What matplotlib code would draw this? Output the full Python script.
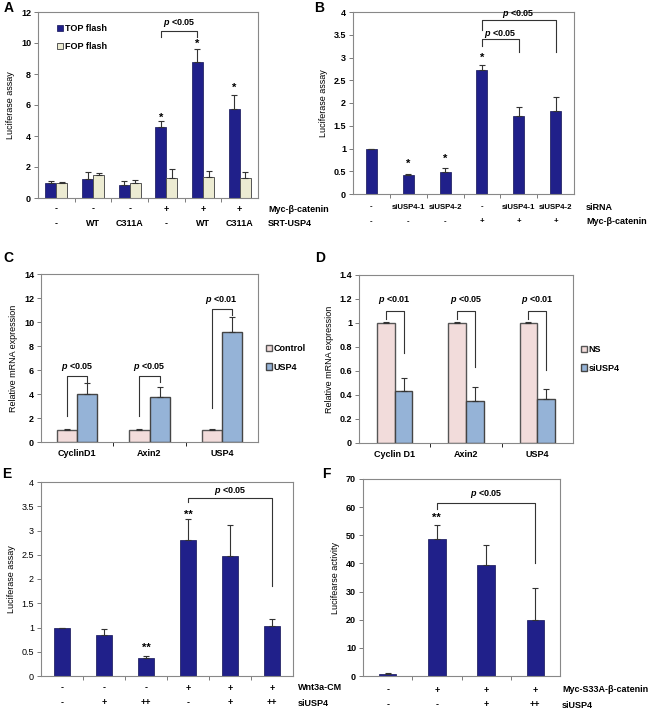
import numpy as np
import matplotlib.pyplot as plt
from matplotlib.transforms import blended_transform_factory

plt.rcParams['font.family'] = ['Liberation Sans Narrow', 'Liberation Sans', 'DejaVu Sans']
plt.rcParams['font.weight'] = 'bold'
plt.rcParams['mathtext.fontset'] = 'custom'
plt.rcParams['mathtext.it'] = 'Liberation Sans:italic:bold'

W, H = 648, 714

# A
a_top = [0.97, 1.22, 0.85, 4.55, 8.8, 5.72]
a_top_err = [0.1, 0.45, 0.27, 0.4, 0.8, 0.92]
a_fop = [1.0, 1.48, 0.97, 1.32, 1.35, 1.3]
a_fop_err = [0.03, 0.12, 0.18, 0.55, 0.4, 0.37]
a_myc = ['-', '-', '-', '+', '+', '+']
a_srt = ['-', 'WT', 'C311A', '-', 'WT', 'C311A']

# B
b_vals = [0.99, 0.41, 0.48, 2.72, 1.71, 1.82]
b_err = [0.01, 0.03, 0.09, 0.11, 0.2, 0.31]
b_sirna = ['-', 'siUSP4-1', 'siUSP4-2', '-', 'siUSP4-1', 'siUSP4-2']
b_myc = ['-', '-', '-', '+', '+', '+']

# C
c_genes = ['CyclinD1', 'Axin2', 'USP4']
c_ctrl = [1.0, 1.0, 1.0]
c_ctrl_err = [0.07, 0.07, 0.07]
c_usp4 = [3.97, 3.72, 9.15]
c_usp4_err = [0.95, 0.85, 1.25]

# D
d_genes = ['Cyclin D1', 'Axin2', 'USP4']
d_ns = [1.0, 1.0, 1.0]
d_ns_err = [0.01, 0.01, 0.01]
d_si = [0.43, 0.35, 0.37]
d_si_err = [0.11, 0.12, 0.08]

# E
e_vals = [0.99, 0.85, 0.37, 2.81, 2.48, 1.04]
e_err = [0.01, 0.11, 0.05, 0.42, 0.63, 0.13]
e_wnt = ['-', '-', '-', '+', '+', '+']
e_si = ['-', '+', '++', '-', '+', '++']

# F
f_vals = [0.7, 48.7, 39.5, 19.8]
f_err = [0.3, 5.0, 7.0, 11.5]
f_myc = ['-', '+', '+', '+']
f_si = ['-', '-', '+', '++']

NAVY = '#20208a'
FOP = '#ecebd2'
PINK = '#f2dcdb'
LBLUE = '#95b3d7'
FS = 6.5
P05 = r'$p$ <0.05'
P01 = r'$p$ <0.01'

fig = plt.figure(figsize=(W / 100, H / 100), dpi=100)


def ax_at(l, t, r, b):
    ax = fig.add_axes([l / W, 1 - b / H, (r - l) / W, (b - t) / H])
    for s in ax.spines.values():
        s.set_color('#888888')
        s.set_linewidth(0.8)
    ax.tick_params(labelsize=FS, length=3, width=0.6, color='#666666', pad=2)
    return ax


def group_ticks(ax, n):
    ax.set_xlim(0.5, n + 0.5)
    ax.set_xticks(np.arange(1.5, n, 1.0))
    ax.set_xticklabels([])
    ax.tick_params(axis='x', length=3)


def err(ax, x, y, e):
    ax.errorbar(x, y, yerr=[np.zeros(len(e)), e], fmt='none', ecolor='#333333',
                elinewidth=0.8, capsize=2, capthick=0.8)


def rows(ax, labels_list, ys, name_x, names, fs=FS):
    tr = blended_transform_factory(ax.transData, fig.transFigure)
    for labels, y, name in zip(labels_list, ys, names):
        for i, lab in enumerate(labels):
            ax.text(i + 1, 1 - y / H, lab, transform=tr, ha='center', va='center', fontsize=fs)
        fig.text(name_x / W, 1 - y / H, name, ha='left', va='center', fontsize=FS)


def bracket(ax, x1, x2, ytop, y1, y2, label, ylab):
    ax.plot([x1, x1, x2, x2], [y1, ytop, ytop, y2], color='#333333', lw=0.8)
    ax.text((x1 + x2) / 2, ylab, label, ha='center', va='center', fontsize=FS)


def stars(ax, xs, ys, s='*'):
    for x, y in zip(xs, ys):
        ax.text(x, y, s, ha='center', va='center', fontsize=8)


# ---------- A ----------
ax = ax_at(38, 12, 258, 198)
x = np.arange(1, 7)
w = 0.3
ax.bar(x - w / 2, a_top, w, color=NAVY, edgecolor='#111155', lw=0.5, label='TOP flash')
ax.bar(x + w / 2, a_fop, w, color=FOP, edgecolor='#555555', lw=0.7, label='FOP flash')
err(ax, x - w / 2, a_top, a_top_err)
err(ax, x + w / 2, a_fop, a_fop_err)
group_ticks(ax, 6)
ax.set_ylim(0, 12)
ax.set_yticks(range(0, 13, 2))
ax.set_ylabel('Luciferase assay', fontsize=FS)
ax.legend(loc='upper left', frameon=False, fontsize=FS, handlelength=0.7, handleheight=0.7,
          handletextpad=0.2, labelspacing=1.0, bbox_to_anchor=(0.05, 0.98))
stars(ax, x[3:] - w / 2, [5.2, 9.95, 7.1])
bracket(ax, 4 - w / 2, 5 - w / 2, 10.8, 10.4, 10.4, P05, 11.3)
rows(ax, [a_myc, a_srt], [209, 224], 268, ['Myc-β-catenin', 'SRT-USP4'])
fig.text(4 / W, 1 - 8 / H, 'A', fontsize=10, ha='left', va='center')

# ---------- B ----------
ax = ax_at(353, 12, 574, 194)
ax.bar(x, b_vals, 0.3, color=NAVY, edgecolor='#111155', lw=0.5)
err(ax, x, b_vals, b_err)
group_ticks(ax, 6)
ax.set_ylim(0, 4)
ax.set_yticks(np.arange(0, 4.01, 0.5))
ax.set_yticklabels(['0', '0.5', '1', '1.5', '2', '2.5', '3', '3.5', '4'])
ax.set_ylabel('Luciferase assay', fontsize=FS)
stars(ax, [2, 3, 4], [0.66, 0.78, 3.0])
bracket(ax, 4, 5, 3.4, 3.25, 3.12, P05, 3.52)
bracket(ax, 4, 6, 3.83, 3.6, 3.12, P05, 3.95)
rows(ax, [b_sirna, b_myc], [207, 222], 586, ['siRNA', 'Myc-β-catenin'], fs=5.6)
fig.text(314 / W, 1 - 8 / H, 'B', fontsize=10, ha='left', va='center')

# ---------- C ----------
ax = ax_at(41, 274, 258, 442)
x3 = np.arange(1, 4)
w = 0.28
ax.bar(x3 - w / 2, c_ctrl, w, color=PINK, edgecolor='#555555', lw=1.0, label='Control')
ax.bar(x3 + w / 2, c_usp4, w, color=LBLUE, edgecolor='#444444', lw=1.0, label='USP4')
err(ax, x3 - w / 2, c_ctrl, c_ctrl_err)
err(ax, x3 + w / 2, c_usp4, c_usp4_err)
ax.set_xlim(0.5, 3.5)
ax.set_xticks(x3)
ax.set_xticklabels(c_genes)
ax.tick_params(axis='x', length=0, pad=5)
ax.set_xticks([1.5, 2.5], minor=True)
ax.tick_params(axis='x', which='minor', length=3)
ax.set_ylim(0, 14)
ax.set_yticks(range(0, 15, 2))
ax.set_ylabel('Relative mRNA expression', fontsize=FS)
ax.legend(loc='center left', bbox_to_anchor=(1.0, 0.5), frameon=False, fontsize=FS,
          handlelength=0.6, handletextpad=0.2, labelspacing=1.0)
for i, (top, r, lab) in enumerate([(5.5, 5.0, P05), (5.5, 5.0, P05), (11.1, 10.6, P01)]):
    bracket(ax, x3[i] - w / 2, x3[i] + w / 2, top, 2.2 if i < 2 else 2.8, r, lab, top + 0.75)
fig.text(3 / W, 1 - 258 / H, 'C', fontsize=10, ha='left', va='center')

# ---------- D ----------
ax = ax_at(359, 275, 573, 443)
w = 0.25
ax.bar(x3 - w / 2, d_ns, w, color=PINK, edgecolor='#555555', lw=1.0, label='NS')
ax.bar(x3 + w / 2, d_si, w, color=LBLUE, edgecolor='#444444', lw=1.0, label='siUSP4')
err(ax, x3 - w / 2, d_ns, d_ns_err)
err(ax, x3 + w / 2, d_si, d_si_err)
ax.set_xlim(0.5, 3.5)
ax.set_xticks(x3)
ax.set_xticklabels(d_genes)
ax.tick_params(axis='x', length=0, pad=5)
ax.set_xticks([1.5, 2.5], minor=True)
ax.tick_params(axis='x', which='minor', length=3)
ax.set_ylim(0, 1.4)
ax.set_yticks(np.arange(0, 1.41, 0.2))
ax.set_yticklabels(['0', '0.2', '0.4', '0.6', '0.8', '1', '1.2', '1.4'])
ax.set_ylabel('Relative mRNA expression', fontsize=FS)
ax.legend(loc='center left', bbox_to_anchor=(1.0, 0.5), frameon=False, fontsize=FS,
          handlelength=0.6, handletextpad=0.2, labelspacing=1.0)
for i, (r, lab) in enumerate([(0.75, P01), (0.63, P05), (0.61, P01)]):
    bracket(ax, x3[i] - w / 2, x3[i] + w / 2, 1.1, 1.03, r, lab, 1.19)
fig.text(315 / W, 1 - 258 / H, 'D', fontsize=10, ha='left', va='center')

# ---------- E ----------
ax = ax_at(41, 482, 293, 676)
ax.bar(x, e_vals, 0.39, color=NAVY, edgecolor='#111155', lw=0.5)
err(ax, x, e_vals, e_err)
group_ticks(ax, 6)
ax.set_ylim(0, 4)
ax.set_yticks(np.arange(0, 4.01, 0.5))
ax.set_yticklabels(['0', '0.5', '1', '1.5', '2', '2.5', '3', '3.5', '4'])
ax.set_ylabel('Luciferase assay', fontsize=FS, fontweight='normal')
stars(ax, [3, 4], [0.58, 3.32], '**')
bracket(ax, 4, 6, 3.68, 3.58, 1.85, P05, 3.82)
rows(ax, [e_wnt, e_si], [688, 703], 298, ['Wnt3a-CM', 'siUSP4'])
for t in ax.get_yticklabels():
    t.set_fontweight('normal')
fig.text(2 / W, 1 - 474 / H, 'E', fontsize=10, ha='left', va='center')

# ---------- F ----------
ax = ax_at(363, 479, 560, 676)
x4 = np.arange(1, 5)
ax.bar(x4, f_vals, 0.36, color=NAVY, edgecolor='#111155', lw=0.5)
err(ax, x4, f_vals, f_err)
group_ticks(ax, 4)
ax.set_ylim(0, 70)
ax.set_yticks(range(0, 71, 10))
ax.set_ylabel('Lucifearse activity', fontsize=FS)
stars(ax, [2], [56.2], '**')
bracket(ax, 2, 4, 61.5, 59.5, 40, P05, 64.5)
rows(ax, [f_myc, f_si], [690, 705], 562, ['Myc-S33A-β-catenin', 'siUSP4'])
fig.text(322 / W, 1 - 474 / H, 'F', fontsize=10, ha='left', va='center')

fig.savefig('out.png', dpi=100)
